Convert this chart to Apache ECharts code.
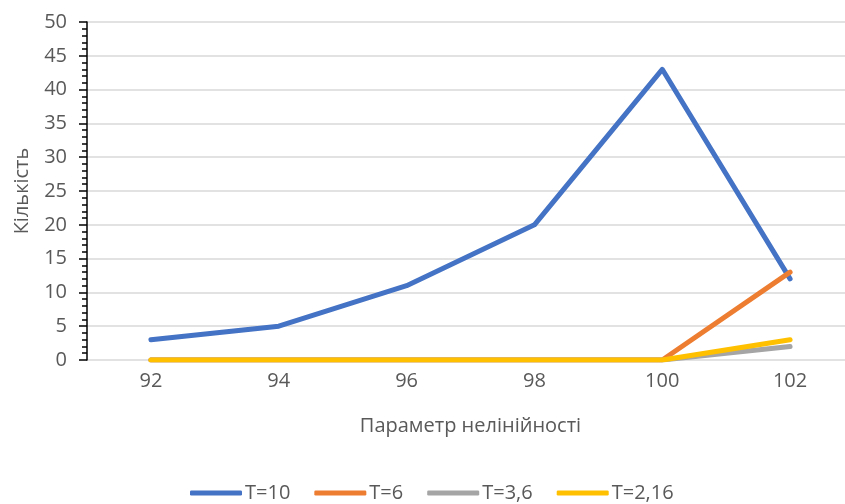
<!DOCTYPE html>
<html>
<head>
<meta charset="utf-8">
<script src="https://cdn.jsdelivr.net/npm/echarts@6/dist/echarts.min.js"></script>
<style>html,body{margin:0;padding:0;background:#fff}#c{width:845px;height:504px}</style>
</head>
<body>
<div id="c"></div>
<script>
const categories = ['92', '94', '96', '98', '100', '102'];
const seriesNames = ['T=10', 'T=6', 'T=3,6', 'T=2,16'];
const t10 = [3, 5, 11, 20, 43, 12];
const t6 = [0, 0, 0, 0, 0, 13];
const t36 = [0, 0, 0, 0, 0, 2];
const t216 = [0, 0, 0, 0, 0, 3];
const colors = ['#4472C4', '#ED7D31', '#A5A5A5', '#FFC000'];
const xTitle = 'Параметр нелінійності';
const yTitle = 'Кількість';

const FONT = '"Open Sans", "Noto Sans", sans-serif';
const chart = echarts.init(document.getElementById('c'));
const data = [t10, t6, t36, t216];
chart.setOption({
  animation: false,
  color: colors,
  textStyle: { fontFamily: FONT },
  grid: { left: 87, width: 767, top: 22, bottom: 144, containLabel: false, outerBoundsMode: 'none' },
  legend: {
    top: 483, left: 190, padding: 0,
    icon: 'roundRect', itemWidth: 52, itemHeight: 5, itemGap: 24,
    textStyle: { fontSize: 20, color: '#595959', fontFamily: FONT, padding: [0, 0, 0, -2] },
    data: seriesNames
  },
  xAxis: {
    type: 'category', data: categories, boundaryGap: true,
    name: xTitle, nameLocation: 'middle', nameGap: 56,
    nameTextStyle: { fontSize: 20, color: '#595959', fontFamily: FONT },
    axisLine: { show: false }, axisTick: { show: false },
    axisLabel: { fontSize: 20, color: '#595959', margin: 11, fontFamily: FONT }
  },
  yAxis: {
    type: 'value', min: 0, max: 50, interval: 5,
    name: yTitle, nameLocation: 'middle', nameGap: 55, nameRotate: 90,
    nameTextStyle: { fontSize: 20, color: '#595959', fontFamily: FONT },
    axisLine: { show: true, lineStyle: { color: '#000', width: 1.5 } },
    axisTick: { show: true, length: 8, lineStyle: { color: '#000', width: 1.5 } },
    minorTick: { show: true, splitNumber: 5, length: 5, lineStyle: { color: '#000', width: 1.5 } },
    splitLine: { show: true, lineStyle: { color: '#D9D9D9', width: 1.5 } },
    axisLabel: { fontSize: 20, color: '#595959', margin: 20, fontFamily: FONT }
  },
  series: seriesNames.map((n, i) => ({
    name: n, type: 'line', data: data[i], showSymbol: false, symbol: 'none',
    lineStyle: { width: 5, color: colors[i], cap: 'round', join: 'round' },
    z: 2 + i
  }))
});
</script>
</body>
</html>
